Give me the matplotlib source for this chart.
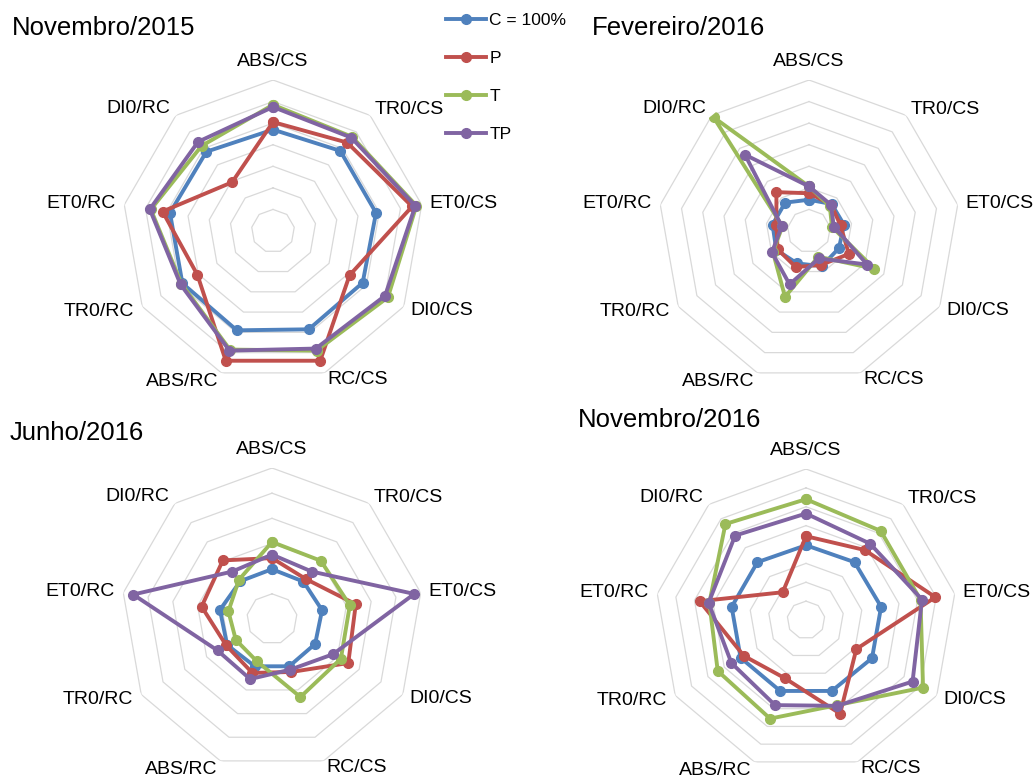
import numpy as np
import matplotlib
matplotlib.use("Agg")
import matplotlib.pyplot as plt
from matplotlib.lines import Line2D

plt.rcParams['font.family'] = ['Liberation Sans', 'DejaVu Sans']

categories = ['ABS/CS', 'TR0/CS', 'ET0/CS', 'DI0/CS', 'RC/CS',
              'ABS/RC', 'TR0/RC', 'ET0/RC', 'DI0/RC']
series_names = ['C = 100%', 'P', 'T', 'TP']
colors = ['#4F81BD', '#C0504D', '#9BBB59', '#8064A2']

# values in % of control, one list per treatment
nov15_C = [94, 97, 97, 96, 97, 98, 97, 97, 96]
nov15_P = [101, 107, 131, 82, 128, 128, 81, 104, 59]
nov15_T = [117, 114, 135, 123, 118, 117, 98, 115, 103]
nov15_TP = [115, 113, 134, 120, 116, 118, 99, 116, 108]

fev16_C = [87, 98, 99, 96, 104, 96, 105, 103, 103]
fev16_P = [105, 96, 89, 128, 100, 107, 101, 92, 141]
fev16_T = [124, 90, 65, 210, 76, 195, 116, 75, 413]
fev16_TP = [124, 95, 70, 187, 81, 158, 119, 77, 277]

jun16_C = [99, 97, 101, 99, 100, 100, 103, 105, 98]
jun16_P = [121, 104, 169, 175, 112, 114, 105, 142, 152]
jun16_T = [153, 151, 157, 158, 165, 89, 83, 88, 102]
jun16_TP = [128, 123, 287, 140, 107, 127, 125, 280, 123]

nov16_C = [99, 100, 101, 101, 100, 100, 100, 100, 100]
nov16_P = [111, 121, 174, 77, 132, 82, 95, 143, 48]
nov16_T = [160, 154, 154, 179, 120, 139, 135, 130, 166]
nov16_TP = [141, 132, 156, 163, 121, 120, 114, 131, 146]

titles = ['Novembro/2015', 'Fevereiro/2016', 'Junho/2016', 'Novembro/2016']
# radial grid: (step, number of rings) per panel
grid_steps = [20, 60, 50, 25]
grid_rings = [7, 7, 6, 8]

panels = [
    [nov15_C, nov15_P, nov15_T, nov15_TP],
    [fev16_C, fev16_P, fev16_T, fev16_TP],
    [jun16_C, jun16_P, jun16_T, jun16_TP],
    [nov16_C, nov16_P, nov16_T, nov16_TP],
]

W, H = 1035, 778
fig = plt.figure(figsize=(W / 100, H / 100), dpi=100)

# panel centers / radius in pixels, title anchors
centers = [(273, 231), (809, 231), (272, 619), (806, 620)]
R = 151
title_pos = [(12, 28), (592, 28), (10, 433), (578, 420)]

n = len(categories)
angles = np.arange(n) * 2 * np.pi / n
angles_c = np.append(angles, angles[0])

for p, data in enumerate(panels):
    cx, cy = centers[p]
    ax = fig.add_axes([(cx - R) / W, 1 - (cy + R) / H, 2 * R / W, 2 * R / H],
                      projection='polar')
    ax.set_theta_offset(np.pi / 2)
    ax.set_theta_direction(-1)
    rmax = grid_steps[p] * grid_rings[p]
    ax.set_ylim(0, rmax)
    ax.spines['polar'].set_visible(False)
    ax.grid(False)
    ax.set_xticks([])
    ax.set_yticks([])
    ax.patch.set_alpha(0)

    for i in range(1, grid_rings[p] + 1):
        ax.plot(angles_c, [i * grid_steps[p]] * (n + 1), color='#D9D9D9',
                lw=0.9, zorder=0)

    for vals, col in zip(data, colors):
        v = list(vals) + [vals[0]]
        ax.plot(angles_c, v, color=col, lw=2.8, marker='o', markersize=7,
                solid_joinstyle='round', zorder=3)

    for a, lab in zip(angles, categories):
        s = np.sin(a)
        if abs(s) < 0.1:
            ax.text(a, rmax * 1.125, lab, ha='center', va='center', fontsize=14)
        elif s > 0:
            ax.text(a, rmax * 1.05, lab, ha='left', va='center', fontsize=14)
        else:
            ax.text(a, rmax * 1.06, lab, ha='right', va='center', fontsize=14)

    tx, ty = title_pos[p]
    fig.text(tx / W, 1 - ty / H, titles[p], fontsize=18.5, ha='left', va='center')

handles = [Line2D([], [], color=c, lw=2.8, marker='o', markersize=7) for c in colors]
fig.legend(handles, series_names, loc='upper left',
           bbox_to_anchor=(446 / W, 1 - 13 / H), frameon=False, fontsize=12.5,
           borderaxespad=0, borderpad=0, handlelength=2.3, handletextpad=0.2,
           labelspacing=1.32)

fig.savefig('out.png', dpi=100, facecolor='white')
